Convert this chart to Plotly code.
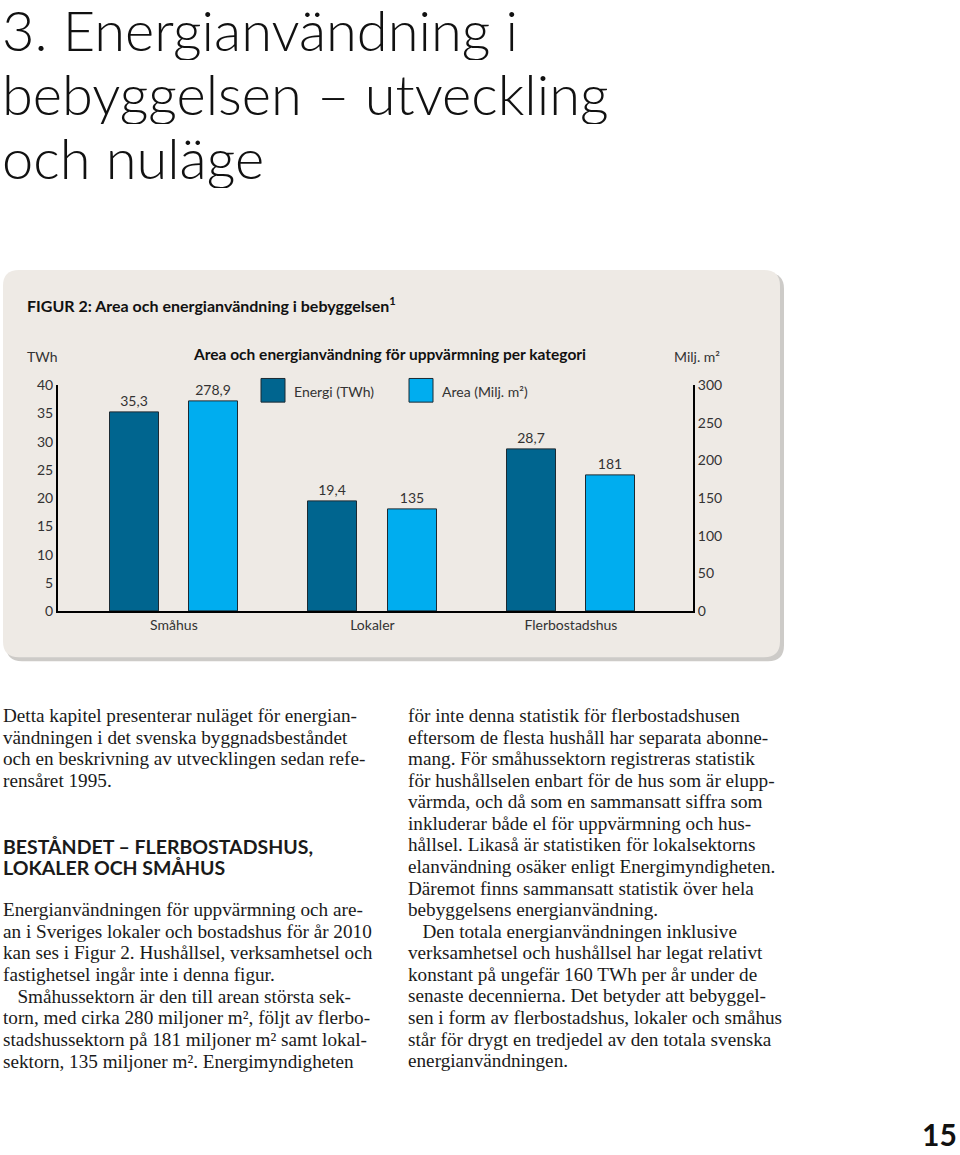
import plotly.graph_objects as go

# ---------------- data ----------------
categories = ["Småhus", "Lokaler", "Flerbostadshus"]
energy_twh = [35.3, 19.4, 28.7]
area_milj_m2 = [278.9, 135, 181]
left_ticks = [0, 5, 10, 15, 20, 25, 30, 35, 40]
right_ticks = [0, 50, 100, 150, 200, 250, 300]

title_lines = ["3. Energianvändning i", "bebyggelsen – utveckling", "och nuläge"]

left_col = [
    "Detta kapitel presenterar nuläget för energian-",
    "vändningen i det svenska byggnadsbeståndet",
    "och en beskrivning av utvecklingen sedan refe-",
    "rensåret 1995.",
]
heading = ["BESTÅNDET – FLERBOSTADSHUS,", "LOKALER OCH SMÅHUS"]
left_col2 = [
    "Energianvändningen för uppvärmning och are-",
    "an i Sveriges lokaler och bostadshus för år 2010",
    "kan ses i Figur 2. Hushållsel, verksamhetsel och",
    "fastighetsel ingår inte i denna figur.",
    "   Småhussektorn är den till arean största sek-",
    "torn, med cirka 280 miljoner m², följt av flerbo-",
    "stadshussektorn på 181 miljoner m² samt lokal-",
    "sektorn, 135 miljoner m². Energimyndigheten",
]
right_col = [
    "för inte denna statistik för flerbostadshusen",
    "eftersom de flesta hushåll har separata abonne-",
    "mang. För småhussektorn registreras statistik",
    "för hushållselen enbart för de hus som är elupp-",
    "värmda, och då som en sammansatt siffra som",
    "inkluderar både el för uppvärmning och hus-",
    "hållsel. Likaså är statistiken för lokalsektorns",
    "elanvändning osäker enligt Energimyndigheten.",
    "Däremot finns sammansatt statistik över hela",
    "bebyggelsens energianvändning.",
    "   Den totala energianvändningen inklusive",
    "verksamhetsel och hushållsel har legat relativt",
    "konstant på ungefär 160 TWh per år under de",
    "senaste decennierna. Det betyder att bebyggel-",
    "sen i form av flerbostadshus, lokaler och småhus",
    "står för drygt en tredjedel av den totala svenska",
    "energianvändningen.",
]

# ---------------- helpers ----------------
W, H = 960, 1155


def px(x):
    return x / W


def py(y):
    return 1 - y / H


def fmt(v):
    return f"{v:g}".replace(".", ",")


def rrect(x0, y0, x1, y1, r):
    pts = [
        ("M", [(x0 + r, y0)]),
        ("L", [(x1 - r, y0)]),
        ("Q", [(x1, y0), (x1, y0 + r)]),
        ("L", [(x1, y1 - r)]),
        ("Q", [(x1, y1), (x1 - r, y1)]),
        ("L", [(x0 + r, y1)]),
        ("Q", [(x0, y1), (x0, y1 - r)]),
        ("L", [(x0, y0 + r)]),
        ("Q", [(x0, y0), (x0 + r, y0)]),
    ]
    s = ""
    for cmd, ps in pts:
        s += cmd + " " + " ".join(f"{px(a):.5f},{py(b):.5f}" for a, b in ps) + " "
    return s + "Z"


DARK = "#00658F"
LIGHT = "#00ADEF"
SANS = "Lato, 'Open Sans', sans-serif"
SERIF = "'Liberation Serif', 'DejaVu Serif', serif"
TXT = "#333333"

fig = go.Figure()

fig.add_trace(go.Bar(
    x=categories, y=energy_twh, yaxis="y", name="Energi (TWh)",
    marker=dict(color=DARK, line=dict(color="#1b2a33", width=1)),
    width=0.247, offset=-0.3235,
    text=[fmt(v) for v in energy_twh], textposition="outside",
    textfont=dict(family=SANS, size=14, color=TXT), cliponaxis=False,
    constraintext="none", showlegend=False, hoverinfo="skip",
))
fig.add_trace(go.Bar(
    x=categories, y=area_milj_m2, yaxis="y2", name="Area (Milj. m²)",
    marker=dict(color=LIGHT, line=dict(color="#1b2a33", width=1)),
    width=0.247, offset=0.0765,
    text=[fmt(v) for v in area_milj_m2], textposition="outside",
    textfont=dict(family=SANS, size=14, color=TXT), cliponaxis=False,
    constraintext="none", showlegend=False, hoverinfo="skip",
))

shapes = [
    dict(type="path", xref="paper", yref="paper", path=rrect(6, 268, 784, 662, 16),
         fillcolor="#CDCBC8", line=dict(width=0), layer="below"),
    dict(type="path", xref="paper", yref="paper", path=rrect(3, 265, 780, 658, 16),
         fillcolor="#EEEAE5", line=dict(width=0), layer="below"),
    # legend swatches
    dict(type="rect", xref="paper", yref="paper", x0=px(261), x1=px(285), y0=py(399), y1=py(375),
         fillcolor=DARK, line=dict(color="#1b2a33", width=1)),
    dict(type="rect", xref="paper", yref="paper", x0=px(409), x1=px(433), y0=py(399), y1=py(375),
         fillcolor=LIGHT, line=dict(color="#1b2a33", width=1)),
]

ann = []


def text(x, y, s, size, family=SANS, color=TXT, weight=None, xanchor="left", height=None):
    f = dict(family=family, size=size, color=color)
    if weight:
        f["weight"] = weight
    a = dict(x=px(x), y=py(y), xref="paper", yref="paper", text=s, showarrow=False,
             xanchor=xanchor, yanchor="middle", font=f, align="left")
    if height:
        a["height"] = height
    ann.append(a)


# title
for i, line in enumerate(title_lines):
    text(0, 20 + i * 65, line, 56, color="#111111", weight=300, height=62)

# figure texts
text(25, 300, "FIGUR 2: Area och energianvändning i bebyggelsen<sup>1</sup>", 16, color="#111111", weight="bold")
text(25, 353, "TWh", 14)
text(389, 350, "Area och energianvändning för uppvärmning per kategori", 15.5, color="#111111",
     weight="bold", xanchor="center")
text(672, 353, "Milj. m²", 14)
text(292, 388, "Energi (TWh)", 14)
text(440, 388, "Area (Milj. m²)", 14)

# body text
BODY = 19.2
for i, line in enumerate(left_col):
    text(1, 717 + i * 22, line, BODY, family=SERIF, color="#1a1a1a")
for i, line in enumerate(heading):
    text(1, 849 + i * 22, line, 19.5, color="#1a1a1a", weight="bold", height=22)
for i, line in enumerate(left_col2):
    text(1, 914 + i * 22, line, BODY, family=SERIF, color="#1a1a1a")
for i, line in enumerate(right_col):
    text(406, 717 + i * 21.9, line, BODY, family=SERIF, color="#1a1a1a")

text(959, 1142, "15", 30, color="#111111", weight="bold", xanchor="right")

fig.update_layout(
    width=W, height=H,
    margin=dict(l=0, r=0, t=0, b=0),
    paper_bgcolor="white", plot_bgcolor="rgba(0,0,0,0)",
    shapes=shapes, annotations=ann,
    xaxis=dict(domain=[px(58), px(693)], range=[-0.584, 2.615], showline=True, linecolor="black",
               linewidth=2, ticks="", showgrid=False, zeroline=False,
               tickfont=dict(family=SANS, size=14, color=TXT), fixedrange=True),
    yaxis=dict(domain=[py(611), py(382)], range=[0, 40], tickvals=left_ticks, showline=True,
               linecolor="black", linewidth=2, ticks="", showgrid=False, zeroline=False,
               tickfont=dict(family=SANS, size=14, color=TXT), anchor="x", fixedrange=True),
    yaxis2=dict(domain=[py(611), py(382)], range=[0, 300], tickvals=right_ticks, showline=True,
                linecolor="black", linewidth=2, ticks="", showgrid=False, zeroline=False,
                overlaying="y", side="right", anchor="x", fixedrange=True,
                tickfont=dict(family=SANS, size=14, color=TXT)),
    bargap=0, font=dict(family=SANS),
)

fig.write_html("out.html", config={"displayModeBar": False},
               post_script="document.body.style.margin='0';document.body.style.overflow='hidden';")
